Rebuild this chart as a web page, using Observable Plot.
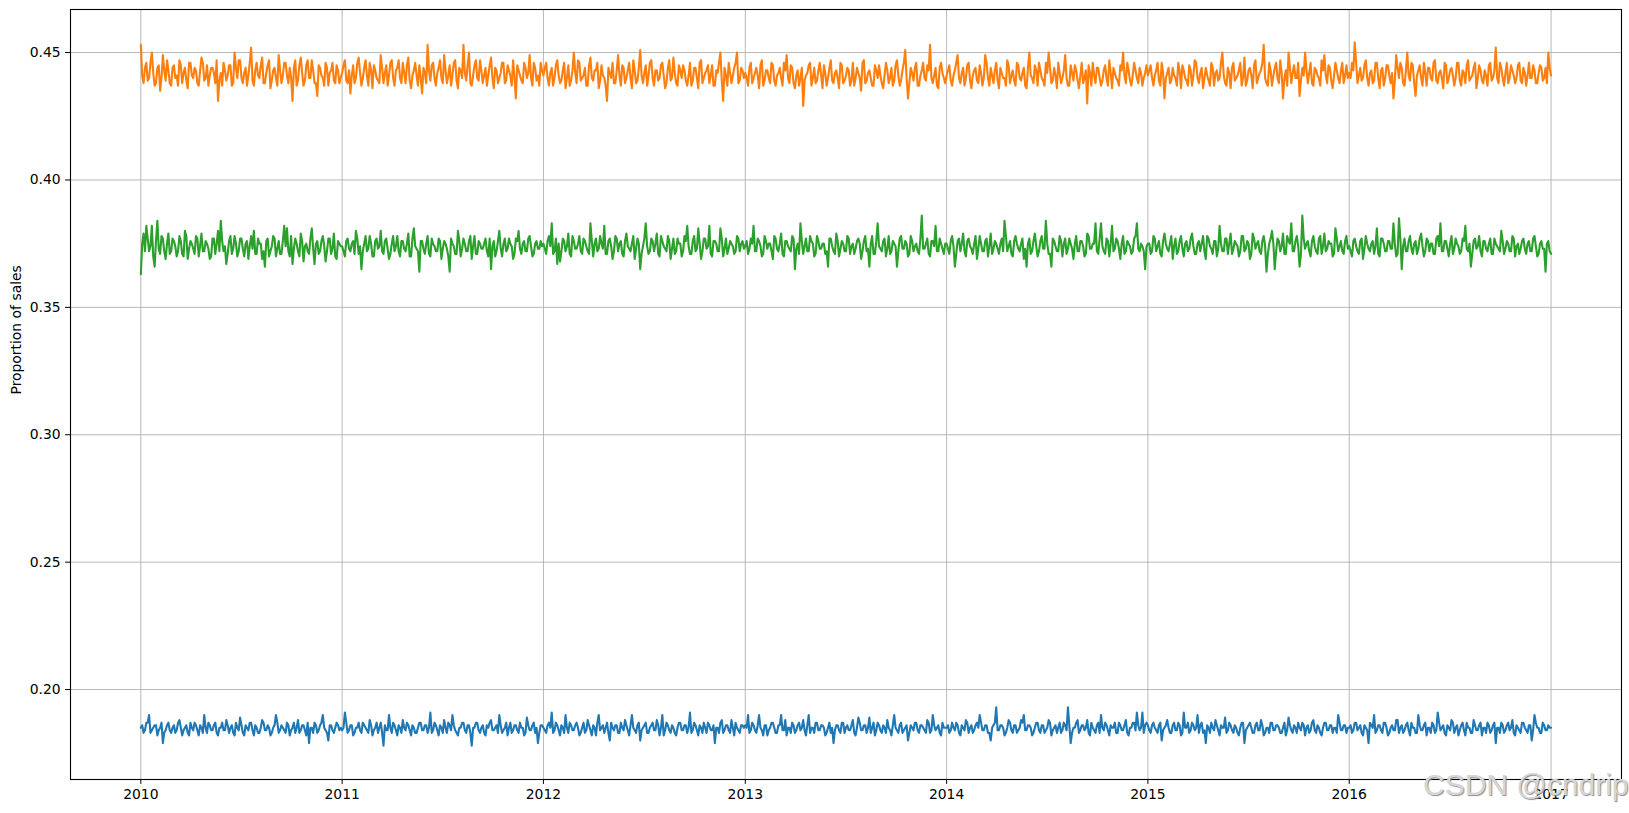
<!DOCTYPE html>
<html><head><meta charset="utf-8">
<script src="https://cdn.jsdelivr.net/npm/d3@7"></script>
<script src="https://cdn.jsdelivr.net/npm/@observablehq/plot@0.6"></script>
<style>
html,body{margin:0;padding:0;background:#fff;}
#wrap{position:relative;width:1629px;height:813px;overflow:hidden;}
#wm{position:absolute;left:1423px;top:770px;font-size:30px;line-height:30px;font-family:"Liberation Sans",Arial,sans-serif;color:#d6d6d6;text-shadow:1px 1px 1px #8c8c8c;white-space:nowrap;}
</style></head><body><div id="wrap"></div><script>
const years = [2010, 2011, 2012, 2013, 2014, 2015, 2016];
const xTickYears = [2010, 2011, 2012, 2013, 2014, 2015, 2016, 2017];
const yTicks = [0.20, 0.25, 0.30, 0.35, 0.40, 0.45];
const yLabel = "Proportion of sales";
const watermark = "CSDN @cndrip";

const blueByYear = [
[.185,.183,.187,.190,.184,.186,.182,.185,.179,.184,.187,.183,.186,.184,.188,.182,.185,.183,.187,.184,.186,.182,.185,.190,.183,.186,.184,.187,.182,.185,.184,.188,.183,.186,.182,.185,.189,.183,.186,.184,.187,.182,.185,.183,.188,.184,.186,.182,.185,.190,.183,.186,.184,.187,.182,.185,.183,.188,.184,.186,.182,.179,.185,.187,.183,.186,.190,.184,.180,.186,.183,.187,.184],
[.184,.191,.183,.186,.182,.185,.187,.183,.186,.184,.188,.182,.185,.183,.187,.178,.184,.190,.183,.186,.182,.185,.188,.184,.186,.182,.185,.183,.187,.184,.186,.183,.191,.184,.186,.182,.185,.188,.183,.186,.190,.184,.182,.185,.187,.183,.186,.178,.185,.187,.183,.186,.182,.185,.188,.184,.186,.190,.183,.185,.182,.187,.184,.186,.183,.185,.182,.189,.184,.186,.183,.179,.186],
[.185,.183,.187,.191,.184,.186,.182,.185,.190,.183,.186,.184,.187,.182,.185,.183,.188,.184,.186,.182,.190,.185,.183,.187,.180,.185,.186,.183,.187,.184,.186,.182,.190,.184,.186,.180,.185,.187,.183,.186,.184,.188,.182,.190,.184,.186,.183,.185,.182,.187,.184,.186,.183,.191,.184,.186,.182,.185,.187,.183,.186,.184,.179,.185,.187,.183,.186,.184,.188,.182,.185,.183,.186],
[.186,.190,.184,.186,.183,.190,.184,.186,.182,.185,.187,.183,.186,.190,.184,.182,.185,.187,.183,.186,.184,.188,.182,.190,.185,.183,.187,.184,.186,.182,.185,.183,.179,.186,.184,.187,.183,.186,.184,.188,.182,.189,.184,.186,.183,.189,.185,.182,.187,.184,.186,.183,.185,.182,.190,.184,.186,.183,.185,.180,.186,.184,.187,.183,.186,.184,.188,.183,.190,.184,.186,.182,.185],
[.185,.183,.187,.184,.186,.182,.185,.188,.183,.186,.184,.187,.190,.184,.186,.183,.180,.186,.193,.184,.186,.182,.185,.187,.183,.186,.184,.188,.190,.184,.186,.182,.185,.187,.183,.186,.184,.188,.182,.185,.183,.187,.184,.186,.193,.179,.185,.187,.183,.186,.184,.188,.182,.185,.183,.187,.190,.184,.186,.182,.185,.187,.183,.186,.184,.188,.182,.185,.187,.191,.184,.191,.186],
[.186,.183,.187,.184,.186,.180,.185,.188,.183,.186,.184,.187,.182,.191,.185,.183,.187,.184,.190,.186,.183,.179,.185,.187,.184,.186,.182,.185,.189,.184,.186,.183,.185,.182,.187,.179,.185,.187,.183,.186,.184,.188,.182,.185,.183,.187,.184,.186,.183,.185,.182,.189,.184,.186,.183,.185,.187,.182,.186,.184,.188,.183,.185,.182,.187,.184,.186,.183,.185,.190,.184,.186,.183],
[.185,.183,.187,.184,.186,.182,.185,.179,.186,.190,.184,.186,.183,.187,.182,.185,.184,.188,.183,.186,.184,.187,.182,.185,.183,.190,.184,.186,.182,.185,.187,.183,.191,.184,.186,.182,.185,.188,.183,.186,.184,.187,.182,.185,.183,.188,.184,.186,.182,.185,.187,.183,.186,.179,.185,.187,.183,.186,.184,.188,.182,.185,.183,.187,.184,.186,.180,.190,.185,.183,.187,.184,.186]
];
const blueMidByYear = [
[.186,.184,.187,.183,.185,.186,.184,.187,.183,.186,.184,.185,.183,.187,.185,.184,.186,.182,.185,.187,.184,.186,.183,.185,.187,.184,.186,.183,.185,.187,.184,.186,.185,.183,.187,.184,.186,.182,.185,.187,.184,.186,.183,.185,.187,.184,.185,.183,.186,.187,.184,.185,.183,.186,.184,.187,.185,.183,.186,.184,.187,.185,.183,.186,.184,.187,.185,.183,.186,.184,.185,.186,.185],
[.185,.187,.184,.186,.183,.185,.184,.187,.185,.183,.186,.184,.187,.185,.183,.186,.184,.185,.187,.184,.186,.183,.185,.187,.184,.186,.183,.185,.187,.184,.186,.185,.183,.187,.184,.186,.183,.185,.187,.184,.186,.183,.185,.187,.184,.186,.183,.185,.187,.184,.185,.183,.186,.187,.184,.185,.183,.186,.184,.187,.185,.183,.186,.184,.187,.185,.183,.186,.184,.187,.185,.183,.186],
[.184,.186,.185,.183,.187,.184,.186,.183,.185,.187,.184,.186,.185,.183,.187,.184,.186,.182,.185,.187,.184,.186,.185,.183,.187,.184,.186,.183,.185,.188,.184,.186,.185,.183,.187,.184,.186,.183,.185,.187,.184,.186,.185,.182,.187,.184,.186,.183,.185,.187,.184,.186,.185,.183,.187,.184,.186,.183,.185,.187,.184,.186,.185,.183,.188,.184,.186,.183,.185,.187,.184,.186,.185],
[.185,.183,.187,.184,.186,.185,.182,.186,.184,.187,.185,.183,.186,.184,.188,.185,.183,.186,.184,.187,.185,.184,.186,.183,.185,.187,.184,.186,.185,.183,.187,.185,.184,.186,.183,.187,.185,.184,.186,.183,.185,.187,.184,.186,.185,.183,.187,.184,.186,.183,.185,.188,.184,.186,.185,.183,.187,.184,.186,.183,.185,.187,.184,.186,.185,.183,.187,.184,.186,.185,.183,.187,.185],
[.186,.184,.185,.187,.183,.186,.184,.187,.185,.183,.186,.185,.187,.184,.186,.183,.185,.187,.184,.186,.185,.183,.188,.184,.186,.183,.185,.187,.184,.186,.185,.183,.187,.184,.186,.183,.185,.187,.184,.186,.185,.183,.187,.184,.186,.183,.185,.188,.184,.186,.185,.183,.187,.184,.186,.183,.185,.187,.184,.186,.185,.183,.187,.184,.186,.183,.185,.187,.184,.186,.185,.183,.187],
[.184,.186,.185,.183,.187,.184,.186,.185,.183,.187,.184,.186,.183,.185,.187,.184,.186,.185,.183,.187,.184,.186,.183,.185,.188,.184,.186,.185,.183,.187,.184,.186,.183,.185,.187,.184,.186,.185,.183,.187,.184,.186,.183,.185,.187,.184,.186,.185,.183,.187,.184,.186,.183,.185,.187,.184,.186,.185,.183,.187,.184,.186,.183,.185,.187,.184,.186,.185,.183,.187,.184,.186,.185],
[.186,.184,.187,.185,.183,.186,.184,.187,.185,.183,.186,.184,.187,.185,.183,.186,.184,.188,.185,.183,.186,.184,.187,.185,.183,.186,.184,.187,.185,.183,.186,.184,.187,.185,.183,.186,.184,.187,.185,.182,.186,.184,.187,.185,.183,.186,.184,.187,.185,.183,.186,.184,.187,.185,.183,.186,.184,.187,.185,.183,.186,.184,.187,.185,.183,.186,.184,.187,.185,.183,.186,.184,.185]
];
const blueEnd = .185;

const orangeByYear = [
[.453,.438,.446,.440,.450,.437,.444,.435,.449,.439,.443,.437,.445,.441,.447,.438,.444,.436,.446,.440,.443,.437,.448,.439,.445,.441,.444,.438,.431,.442,.446,.439,.445,.437,.450,.440,.447,.438,.444,.441,.452,.437,.446,.440,.448,.438,.445,.436,.443,.440,.449,.438,.446,.441,.444,.431,.447,.439,.448,.437,.445,.440,.447,.438,.433,.444,.440,.446,.437,.443,.439,.445,.438],
[.442,.447,.438,.434,.445,.440,.448,.437,.444,.441,.446,.436,.443,.439,.449,.438,.445,.441,.447,.437,.444,.440,.446,.438,.448,.436,.443,.441,.445,.434,.442,.453,.439,.446,.437,.444,.440,.449,.438,.445,.441,.447,.436,.443,.453,.439,.450,.437,.445,.440,.447,.438,.444,.441,.448,.436,.443,.440,.446,.438,.445,.441,.447,.432,.443,.439,.446,.440,.449,.437,.444,.441,.446],
[.441,.446,.437,.444,.440,.447,.438,.443,.436,.445,.439,.450,.438,.446,.440,.444,.437,.448,.439,.443,.436,.445,.440,.431,.442,.446,.438,.449,.437,.444,.440,.446,.436,.443,.439,.451,.438,.445,.441,.447,.437,.443,.440,.446,.436,.444,.439,.448,.438,.445,.440,.443,.437,.446,.439,.444,.436,.447,.440,.443,.438,.445,.437,.442,.450,.431,.441,.446,.438,.444,.450,.439,.443],
[.442,.437,.446,.440,.444,.436,.447,.439,.443,.438,.445,.437,.442,.440,.446,.449,.438,.444,.436,.443,.440,.429,.441,.445,.437,.444,.439,.446,.436,.442,.440,.447,.438,.443,.436,.445,.439,.444,.437,.446,.440,.442,.435,.447,.439,.443,.437,.445,.440,.441,.436,.446,.438,.444,.439,.447,.437,.443,.451,.432,.444,.439,.446,.437,.443,.440,.445,.453,.438,.444,.436,.446,.440],
[.441,.445,.437,.443,.449,.438,.444,.440,.446,.436,.443,.439,.445,.437,.449,.440,.444,.438,.446,.436,.442,.440,.447,.438,.443,.437,.445,.439,.444,.436,.450,.440,.445,.437,.443,.439,.446,.450,.438,.444,.436,.442,.440,.449,.437,.445,.439,.443,.436,.446,.440,.430,.442,.446,.438,.444,.437,.443,.440,.447,.436,.442,.439,.445,.450,.438,.443,.437,.446,.440,.444,.437,.442],
[.441,.445,.437,.443,.439,.446,.432,.442,.438,.444,.440,.446,.436,.443,.439,.445,.437,.447,.440,.442,.436,.444,.439,.446,.437,.443,.440,.450,.438,.444,.436,.446,.440,.443,.437,.448,.439,.444,.436,.447,.440,.443,.453,.438,.446,.437,.444,.440,.447,.432,.443,.450,.438,.445,.440,.433,.444,.450,.438,.446,.437,.443,.440,.447,.449,.438,.444,.436,.446,.440,.443,.438,.445],
[.442,.446,.454,.438,.444,.440,.447,.437,.443,.439,.446,.436,.444,.440,.445,.438,.432,.449,.440,.444,.437,.450,.439,.445,.433,.443,.440,.446,.437,.444,.439,.447,.438,.443,.436,.445,.440,.444,.437,.446,.439,.443,.438,.447,.440,.444,.436,.445,.439,.443,.437,.446,.440,.452,.438,.444,.437,.446,.440,.443,.438,.445,.439,.444,.437,.446,.440,.443,.438,.445,.439,.444,.450]
];
const orangeMidByYear = [
[.441,.444,.439,.446,.442,.438,.445,.440,.443,.447,.438,.444,.440,.437,.445,.442,.439,.446,.441,.444,.438,.443,.446,.440,.437,.444,.442,.447,.439,.437,.443,.441,.445,.438,.444,.447,.440,.442,.437,.446,.439,.443,.441,.445,.438,.442,.447,.439,.444,.437,.443,.441,.446,.438,.440,.444,.437,.445,.442,.439,.447,.440,.443,.438,.445,.441,.437,.444,.442,.446,.438,.443,.440],
[.445,.439,.443,.441,.438,.446,.442,.440,.447,.437,.443,.445,.440,.438,.444,.442,.437,.446,.440,.443,.447,.438,.442,.445,.439,.441,.446,.437,.440,.444,.438,.443,.445,.440,.442,.447,.438,.443,.441,.437,.446,.439,.444,.440,.442,.445,.438,.441,.447,.439,.443,.441,.437,.445,.440,.444,.438,.442,.446,.439,.443,.437,.440,.445,.441,.438,.444,.442,.440,.446,.439,.437,.443],
[.444,.440,.442,.437,.445,.441,.439,.446,.440,.437,.443,.442,.447,.439,.441,.437,.445,.440,.443,.446,.439,.441,.437,.444,.440,.438,.443,.441,.445,.438,.443,.440,.447,.438,.444,.441,.442,.437,.446,.440,.443,.439,.445,.441,.438,.447,.440,.442,.437,.443,.445,.439,.441,.437,.444,.440,.446,.438,.442,.445,.441,.437,.443,.446,.439,.444,.437,.442,.441,.446,.438,.444,.440],
[.440,.444,.438,.442,.441,.445,.437,.443,.440,.446,.439,.441,.444,.437,.443,.440,.445,.438,.441,.437,.444,.439,.442,.446,.440,.438,.443,.441,.445,.437,.444,.439,.442,.440,.446,.438,.441,.443,.439,.437,.444,.440,.446,.438,.442,.440,.437,.443,.445,.438,.441,.443,.440,.437,.445,.441,.439,.446,.440,.438,.442,.444,.437,.441,.446,.439,.443,.440,.441,.437,.444,.442,.438],
[.443,.439,.441,.446,.440,.442,.437,.445,.439,.441,.444,.438,.442,.440,.446,.437,.441,.443,.439,.444,.440,.437,.445,.441,.439,.446,.440,.442,.437,.444,.441,.438,.443,.446,.440,.437,.442,.444,.439,.441,.446,.438,.443,.440,.437,.442,.445,.439,.441,.438,.443,.445,.437,.441,.444,.440,.439,.445,.437,.442,.444,.440,.437,.443,.441,.446,.439,.441,.443,.438,.442,.440,.445],
[.443,.440,.441,.446,.437,.442,.440,.444,.439,.441,.437,.443,.445,.440,.437,.443,.441,.446,.438,.444,.440,.441,.437,.444,.442,.439,.446,.441,.437,.442,.444,.439,.441,.446,.440,.437,.443,.441,.445,.438,.442,.446,.440,.437,.443,.441,.446,.438,.442,.440,.437,.444,.442,.440,.446,.439,.441,.443,.442,.438,.444,.441,.437,.443,.441,.445,.439,.441,.443,.438,.446,.441,.440],
[.440,.443,.446,.441,.439,.445,.440,.442,.438,.446,.440,.443,.437,.445,.441,.442,.439,.444,.446,.438,.443,.441,.446,.438,.441,.445,.437,.442,.444,.440,.446,.439,.442,.440,.446,.438,.443,.441,.440,.446,.437,.442,.445,.439,.441,.446,.440,.443,.438,.441,.445,.439,.443,.440,.446,.440,.442,.438,.445,.441,.440,.446,.438,.442,.441,.440,.445,.438,.442,.444,.440,.438,.444]
];
const orangeEnd = .441;

const greenByYear = [
[.363,.379,.382,.372,.382,.366,.384,.371,.377,.369,.379,.372,.376,.370,.378,.371,.380,.369,.376,.373,.378,.370,.379,.372,.375,.369,.377,.371,.380,.384,.372,.367,.376,.371,.378,.370,.377,.373,.375,.369,.378,.380,.371,.375,.369,.366,.377,.372,.378,.370,.376,.371,.382,.381,.370,.367,.377,.372,.379,.368,.375,.371,.381,.367,.376,.372,.378,.368,.377,.371,.379,.369,.375],
[.374,.370,.377,.372,.376,.380,.371,.365,.375,.372,.378,.370,.376,.373,.380,.371,.377,.369,.375,.372,.378,.370,.376,.372,.379,.370,.381,.373,.364,.376,.371,.378,.370,.375,.372,.377,.369,.376,.373,.364,.375,.371,.380,.370,.377,.372,.376,.369,.378,.371,.375,.373,.377,.370,.365,.376,.372,.380,.370,.377,.373,.375,.369,.377,.380,.371,.376,.372,.378,.370,.375,.373,.376],
[.375,.371,.378,.383,.372,.367,.368,.377,.372,.379,.370,.376,.373,.378,.371,.376,.372,.383,.370,.377,.373,.375,.382,.371,.377,.369,.378,.372,.376,.370,.379,.373,.375,.369,.377,.365,.374,.383,.371,.377,.372,.379,.370,.376,.373,.378,.369,.377,.372,.375,.370,.378,.382,.371,.376,.372,.381,.369,.377,.373,.382,.370,.376,.372,.381,.370,.377,.373,.375,.371,.378,.372,.376],
[.374,.371,.377,.382,.372,.376,.370,.378,.373,.375,.369,.377,.372,.379,.370,.376,.373,.378,.365,.375,.383,.371,.377,.372,.376,.370,.378,.373,.375,.371,.366,.377,.372,.379,.370,.376,.372,.378,.371,.375,.373,.377,.369,.376,.372,.366,.378,.371,.383,.373,.376,.370,.378,.372,.375,.366,.377,.373,.376,.370,.378,.372,.375,.371,.386,.373,.377,.370,.376,.382,.372,.375,.371],
[.375,.371,.378,.366,.376,.372,.379,.370,.377,.373,.375,.369,.378,.372,.376,.370,.379,.373,.375,.371,.377,.384,.372,.376,.370,.378,.373,.375,.369,.366,.377,.372,.379,.370,.376,.373,.384,.371,.366,.376,.372,.378,.370,.377,.373,.375,.369,.378,.372,.376,.370,.379,.373,.375,.383,.371,.383,.372,.377,.370,.382,.373,.376,.369,.378,.372,.375,.371,.377,.383,.372,.374,.365],
[.375,.371,.378,.372,.376,.370,.379,.373,.375,.369,.377,.372,.378,.370,.376,.373,.379,.371,.375,.372,.378,.369,.377,.373,.376,.370,.382,.372,.377,.371,.379,.373,.375,.370,.378,.372,.376,.369,.379,.373,.376,.371,.378,.364,.375,.380,.365,.377,.372,.379,.371,.376,.383,.372,.378,.366,.386,.373,.376,.370,.378,.372,.377,.371,.379,.373,.375,.370,.381,.372,.376,.371,.378],
[.374,.370,.377,.372,.376,.369,.378,.373,.375,.371,.381,.370,.377,.372,.376,.373,.383,.370,.385,.365,.377,.372,.378,.371,.376,.373,.379,.370,.377,.372,.375,.371,.378,.383,.372,.376,.370,.378,.373,.375,.371,.377,.382,.372,.366,.376,.373,.378,.370,.376,.372,.377,.371,.375,.373,.380,.371,.376,.372,.378,.370,.375,.373,.377,.371,.376,.372,.378,.370,.375,.373,.364,.376]
];
const greenMidByYear = [
[.375,.372,.377,.374,.370,.376,.373,.378,.372,.375,.371,.377,.374,.372,.376,.370,.378,.373,.375,.371,.377,.374,.372,.376,.373,.370,.377,.375,.372,.376,.374,.371,.378,.373,.375,.372,.377,.370,.376,.374,.373,.371,.377,.375,.372,.376,.370,.374,.377,.373,.371,.376,.374,.372,.378,.373,.375,.370,.376,.374,.372,.377,.373,.375,.371,.376,.374,.372,.377,.373,.370,.376,.374],
[.372,.376,.373,.375,.371,.377,.374,.372,.378,.373,.375,.370,.377,.374,.372,.376,.373,.371,.378,.374,.372,.376,.373,.375,.370,.377,.374,.372,.376,.373,.375,.371,.377,.374,.372,.376,.373,.375,.370,.377,.374,.371,.376,.373,.375,.372,.378,.374,.371,.376,.373,.375,.372,.377,.374,.370,.376,.373,.375,.372,.377,.374,.371,.376,.373,.375,.372,.377,.374,.371,.376,.373,.374],
[.373,.376,.374,.371,.377,.375,.372,.376,.374,.371,.378,.373,.375,.372,.377,.374,.371,.376,.375,.372,.378,.373,.371,.376,.374,.372,.377,.375,.371,.376,.374,.372,.378,.373,.375,.371,.377,.374,.372,.376,.375,.371,.378,.374,.372,.376,.373,.371,.377,.375,.372,.376,.374,.371,.378,.373,.375,.372,.377,.374,.371,.376,.375,.372,.377,.373,.371,.376,.374,.372,.377,.375,.373],
[.376,.373,.375,.372,.377,.374,.371,.376,.375,.372,.378,.373,.375,.371,.376,.374,.372,.377,.373,.371,.376,.374,.372,.378,.375,.371,.376,.373,.375,.372,.377,.374,.371,.376,.373,.375,.372,.377,.374,.371,.376,.375,.372,.378,.373,.375,.371,.376,.374,.372,.377,.373,.371,.376,.374,.372,.378,.373,.375,.371,.376,.374,.372,.377,.373,.375,.371,.376,.374,.372,.377,.373,.375],
[.373,.376,.374,.371,.377,.375,.372,.376,.374,.371,.378,.373,.375,.372,.377,.374,.371,.376,.373,.375,.372,.378,.374,.371,.376,.375,.372,.377,.373,.375,.371,.376,.374,.372,.378,.373,.375,.371,.377,.374,.372,.376,.375,.371,.377,.373,.375,.372,.376,.374,.371,.378,.373,.375,.372,.377,.374,.371,.376,.375,.372,.377,.373,.375,.371,.376,.374,.372,.378,.373,.375,.372,.374],
[.375,.372,.377,.374,.371,.376,.375,.372,.378,.374,.371,.376,.373,.375,.372,.377,.374,.371,.376,.375,.372,.378,.374,.371,.376,.373,.375,.372,.377,.375,.371,.376,.374,.372,.378,.373,.375,.371,.377,.375,.372,.376,.374,.371,.377,.375,.372,.376,.374,.371,.378,.375,.372,.376,.374,.371,.377,.375,.372,.376,.374,.371,.378,.374,.372,.376,.375,.371,.377,.374,.372,.376,.373],
[.372,.376,.374,.371,.377,.373,.375,.372,.376,.374,.371,.377,.375,.372,.376,.373,.375,.371,.377,.374,.372,.376,.373,.375,.371,.377,.374,.372,.376,.375,.371,.377,.374,.372,.376,.373,.375,.371,.377,.374,.372,.376,.373,.375,.371,.377,.374,.372,.376,.373,.375,.371,.377,.374,.372,.376,.373,.375,.372,.377,.374,.371,.376,.373,.375,.372,.377,.374,.371,.376,.373,.375,.372]
];
const greenEnd = .371;

function toRows(byYear, midByYear, endValue) {
  const rows = [];
  byYear.forEach((vals, k) => {
    const y = years[k];
    const t0 = Date.UTC(y, 0, 1), t1 = Date.UTC(y + 1, 0, 1);
    vals.forEach((v, i) => rows.push({date: new Date(t0 + (t1 - t0) * i / vals.length), value: v}));
    const mids = midByYear[k];
    mids.forEach((v, i) => rows.push({date: new Date(t0 + (t1 - t0) * (i + 0.5) / mids.length), value: v}));
  });
  rows.push({date: new Date(Date.UTC(years[years.length - 1] + 1, 0, 1)), value: endValue});
  rows.sort((a, b) => a.date - b.date);
  return rows;
}

const blueRows = toRows(blueByYear, blueMidByYear, blueEnd);
const orangeRows = toRows(orangeByYear, orangeMidByYear, orangeEnd);
const greenRows = toRows(greenByYear, greenMidByYear, greenEnd);
const xTicks = xTickYears.map(y => new Date(Date.UTC(y, 0, 1)));

const gridStyle = {stroke: "#b0b0b0", strokeOpacity: 1, strokeWidth: 0.9};

const chart = Plot.plot({
  width: 1629,
  height: 813,
  marginLeft: 70,
  marginRight: 8,
  marginTop: 9,
  marginBottom: 34,
  style: {fontFamily: "'DejaVu Sans', sans-serif", fontSize: "13.9px", background: "#fff", color: "#000"},
  x: {type: "utc", domain: [new Date(Date.UTC(2009, 7, 26, 12)), new Date(Date.UTC(2017, 4, 8, 17))]},
  y: {domain: [0.1647, 0.4669]},
  marks: [
    Plot.gridX(xTicks, gridStyle),
    Plot.gridY(yTicks, gridStyle),
    Plot.line(blueRows, {x: "date", y: "value", stroke: "#1f77b4", strokeWidth: 2.1}),
    Plot.line(orangeRows, {x: "date", y: "value", stroke: "#ff7f0e", strokeWidth: 2.1}),
    Plot.line(greenRows, {x: "date", y: "value", stroke: "#2ca02c", strokeWidth: 2.1}),
    Plot.frame({stroke: "#000", strokeWidth: 1.1}),
    Plot.axisX(xTicks, {tickFormat: d3.utcFormat("%Y"), tickSize: 4.9, tickPadding: 4.9, label: null, fontSize: 13.9}),
    Plot.axisY(yTicks, {tickFormat: d3.format(".2f"), tickSize: 4.9, tickPadding: 4.9, label: null, fontSize: 13.9}),
    Plot.text([yLabel], {text: d => d, frameAnchor: "left", dx: -54.4, rotate: -90, fontSize: 13.9, fill: "#000"})
  ]
});

const wrap = document.getElementById("wrap");
wrap.appendChild(chart);
const wm = document.createElement("div");
wm.id = "wm";
wm.textContent = watermark;
wrap.appendChild(wm);
</script></body></html>
